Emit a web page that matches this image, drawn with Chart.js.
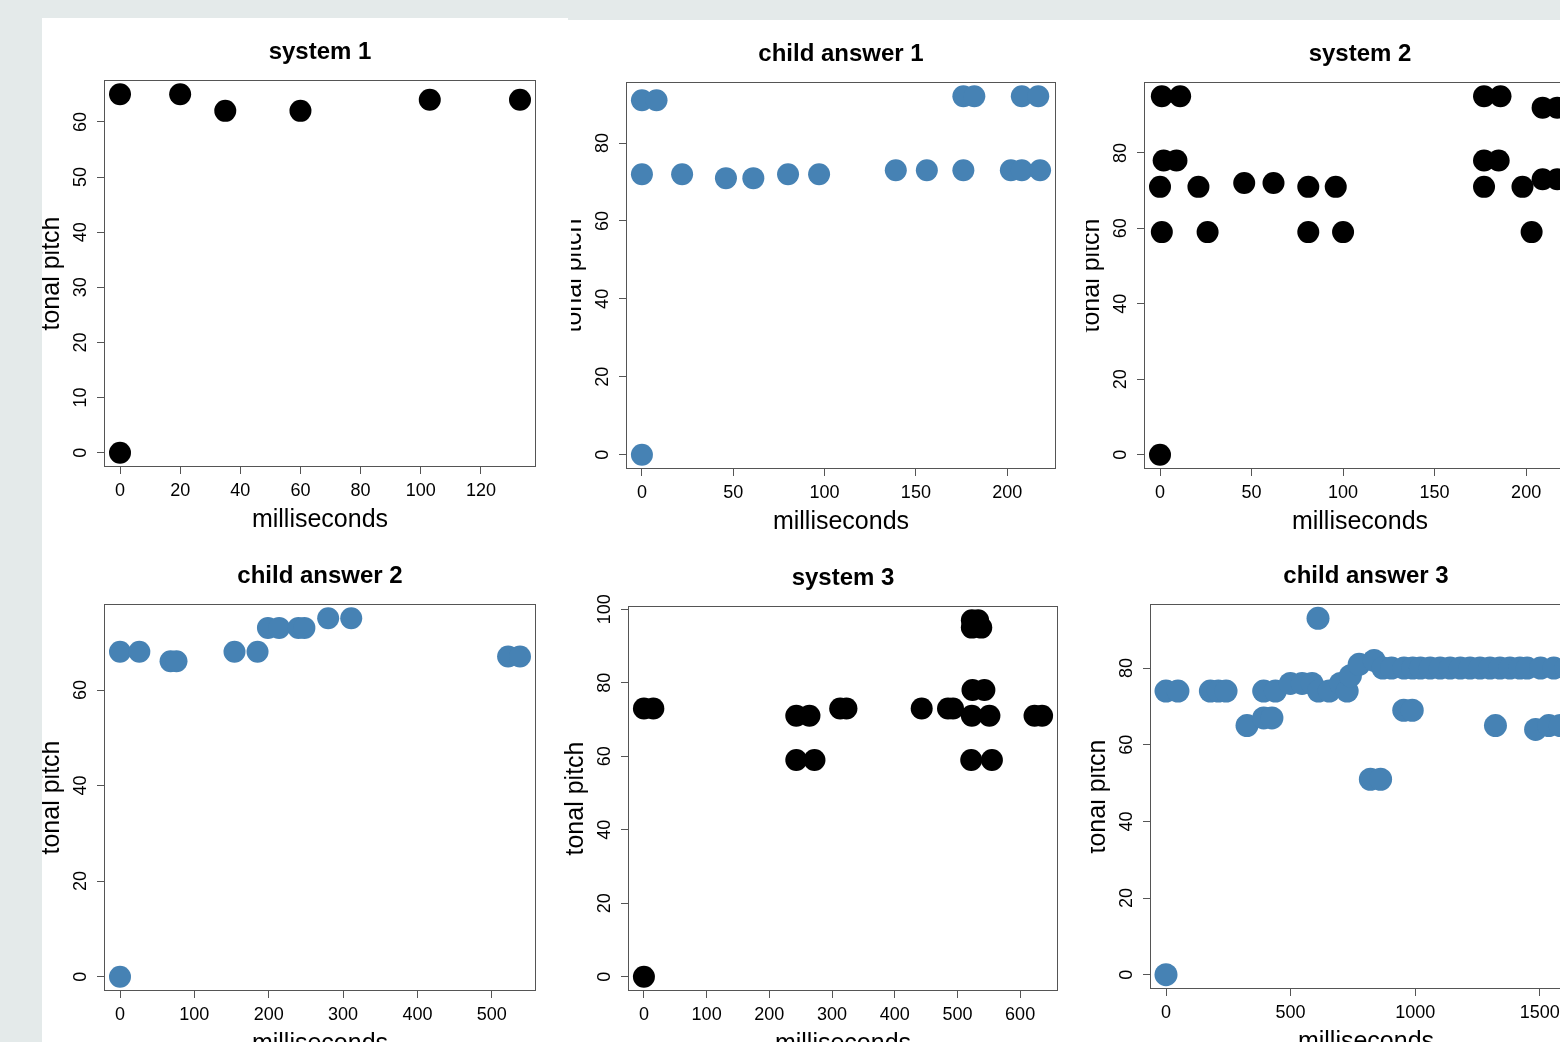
<!DOCTYPE html>
<html><head><meta charset="utf-8">
<script src="https://cdn.jsdelivr.net/npm/chart.js@4.4.1/dist/chart.umd.min.js"></script>
<style>
html,body{margin:0;padding:0;width:1560px;height:1042px;overflow:hidden;background:#e4eaea;position:relative;}
.white{position:absolute;background:#fff;}
.clip{position:absolute;top:0;height:1042px;overflow:hidden;}
.clip canvas{position:absolute;}
</style></head><body>
<div class="white" style="left:42px;top:18px;width:526px;height:1024px"></div>
<div class="white" style="left:568px;top:20px;width:992px;height:1022px"></div>
<script>
// ---- text ----
const panelTitles = ['system 1', 'child answer 1', 'system 2', 'child answer 2', 'system 3', 'child answer 3'];
const xLabel = 'milliseconds';
const yLabel = 'tonal pitch';

// ---- data (milliseconds, tonal pitch) ----
const sys1X = [0, 20, 35, 60, 103, 133, 0];
const sys1Y = [65, 65, 62, 62, 64, 64, 0];

const ans1X = [0, 8, 0, 22, 46, 61, 80, 97, 139, 156, 176, 176, 182, 202, 208, 218, 208, 217, 0];
const ans1Y = [91, 91, 72, 72, 71, 71, 72, 72, 73, 73, 73, 92, 92, 73, 73, 73, 92, 92, 0];

const sys2X = [1, 11, 2, 9, 0, 21, 1, 26, 46, 62, 81, 96, 81, 100, 177, 186, 177, 185, 177, 198, 203, 209, 217, 209, 217, 0];
const sys2Y = [95, 95, 78, 78, 71, 71, 59, 59, 72, 72, 71, 71, 59, 59, 95, 95, 78, 78, 71, 71, 59, 92, 92, 73, 73, 0];

const ans2X = [0, 26, 68, 76, 154, 185, 199, 214, 240, 248, 280, 311, 522, 538, 0];
const ans2Y = [68, 68, 66, 66, 68, 68, 73, 73, 73, 73, 75, 75, 67, 67, 0];

const sys3X = [0, 15, 243, 264, 243, 272, 313, 323, 443, 485, 493, 523, 533, 523, 538, 524, 543, 523, 551, 522, 555, 623, 635, 0];
const sys3Y = [73, 73, 71, 71, 59, 59, 73, 73, 73, 73, 73, 97, 97, 95, 95, 78, 78, 71, 71, 59, 59, 71, 71, 0];

const ans3X = [0, 0, 48, 178, 210, 241, 325, 392, 425, 392, 439, 499, 546, 586, 610, 612, 655, 700, 727, 740, 775, 835, 820, 861,
               870, 905, 955, 990, 954, 988, 1021, 1060, 1100, 1140, 1181, 1220, 1260, 1300, 1322, 1340, 1380, 1420, 1449,
               1483, 1503, 1536, 1556, 1582, 1605];
const ans3Y = [0, 74, 74, 74, 74, 74, 65, 67, 67, 74, 74, 76, 76, 76, 93, 74, 74, 76, 74, 78, 81, 82, 51, 51,
               80, 80, 80, 80, 69, 69, 80, 80, 80, 80, 80, 80, 80, 80, 65, 80, 80, 80, 80,
               64, 80, 65, 80, 65, 80];

// ---- tick labels ----
const sys1XTicks = [0, 20, 40, 60, 80, 100, 120];
const sys1YTicks = [0, 10, 20, 30, 40, 50, 60];
const ans1XTicks = [0, 50, 100, 150, 200];
const ans1YTicks = [0, 20, 40, 60, 80];
const sys2XTicks = [0, 50, 100, 150, 200];
const sys2YTicks = [0, 20, 40, 60, 80];
const ans2XTicks = [0, 100, 200, 300, 400, 500];
const ans2YTicks = [0, 20, 40, 60];
const sys3XTicks = [0, 100, 200, 300, 400, 500, 600];
const sys3YTicks = [0, 20, 40, 60, 80, 100];
const ans3XTicks = [0, 500, 1000, 1500];
const ans3YTicks = [0, 20, 40, 60, 80];

// ---- layout / style ----
const FONT = "'Liberation Sans', Arial, Helvetica, sans-serif";
const BLACK = '#000000', BLUE = '#4682B4', LINE = '#555555';
Chart.defaults.font.family = FONT;

const panels = [
  {t: 0, xs: sys1X, ys: sys1Y, xt: sys1XTicks, yt: sys1YTicks, color: BLACK, box: [104, 80, 536, 467],  xr: [-5.32, 138.32],  yr: [-2.6, 67.6],   clipLeft: 42,   r: 11},
  {t: 1, xs: ans1X, ys: ans1Y, xt: ans1XTicks, yt: ans1YTicks, color: BLUE,  box: [626, 82, 1056, 469], xr: [-8.72, 226.72],  yr: [-3.68, 95.68], clipLeft: 571,  r: 11},
  {t: 2, xs: sys2X, ys: sys2Y, xt: sys2XTicks, yt: sys2YTicks, color: BLACK, box: [1144, 82, 1576, 469], xr: [-8.74, 227.24], yr: [-3.8, 98.8],   clipLeft: 1086, r: 11},
  {t: 3, xs: ans2X, ys: ans2Y, xt: ans2XTicks, yt: ans2YTicks, color: BLUE,  box: [104, 604, 536, 991], xr: [-21.52, 559.52], yr: [-3, 78],       clipLeft: 42,   r: 11},
  {t: 4, xs: sys3X, ys: sys3Y, xt: sys3XTicks, yt: sys3YTicks, color: BLACK, box: [628, 606, 1058, 991], xr: [-25.4, 660.4],  yr: [-3.88, 100.88], clipLeft: 555, r: 11},
  {t: 5, xs: ans3X, ys: ans3Y, xt: ans3XTicks, yt: ans3YTicks, color: BLUE,  box: [1150, 604, 1582, 989], xr: [-64.2, 1669.2], yr: [-3.72, 96.72], clipLeft: 1091, r: 11.5}
];

const boxPlugin = {
  id: 'rbox',
  afterDatasetsDraw(chart) {
    const {ctx, chartArea: a} = chart;
    ctx.save();
    ctx.strokeStyle = LINE;
    ctx.lineWidth = 1;
    ctx.strokeRect(Math.round(a.left) + 0.5, Math.round(a.top) + 0.5,
                   Math.round(a.right - a.left) - 1, Math.round(a.bottom - a.top) - 1);
    ctx.restore();
  }
};

const fmt = v => String(v);

panels.forEach(p => {
  const [bl, bt, br, bb] = p.box;
  const YW = 80, XH = 68, RP = 12;
  const CL = bl - YW, CT = bt - 50;
  const CW = br - CL + RP, CH = bb + XH - CT;
  const clip = document.createElement('div');
  clip.className = 'clip';
  clip.style.left = p.clipLeft + 'px';
  clip.style.width = (1600 - p.clipLeft) + 'px';
  const cv = document.createElement('canvas');
  cv.width = CW; cv.height = CH;
  cv.style.width = CW + 'px'; cv.style.height = CH + 'px';
  cv.style.left = (CL - p.clipLeft) + 'px';
  cv.style.top = CT + 'px';
  clip.appendChild(cv);
  document.body.appendChild(clip);

  const maxChars = Math.max(...p.yt.map(v => String(v).length));
  const yPad = 15.5 - maxChars * 5;

  const grid = {display: true, drawOnChartArea: false, drawTicks: true, tickLength: 7, color: LINE, lineWidth: 1};

  new Chart(cv, {
    type: 'scatter',
    data: {
      datasets: [{
        data: p.xs.map((x, i) => ({x: x, y: p.ys[i]})),
        pointRadius: p.r, pointHoverRadius: p.r,
        pointBackgroundColor: p.color, pointBorderColor: p.color, pointBorderWidth: 0,
        showLine: false
      }]
    },
    options: {
      responsive: false, animation: false, events: [],
      layout: {padding: {left: 0, top: 0, right: RP, bottom: 0}},
      plugins: {
        legend: {display: false},
        tooltip: {enabled: false},
        title: {display: true, text: panelTitles[p.t], fullSize: false, align: 'center',
                color: '#000', font: {size: 24, weight: 'bold', family: FONT},
                padding: {top: 7.8, bottom: 13.4}}
      },
      scales: {
        x: {
          type: 'linear', position: 'bottom', min: p.xr[0], max: p.xr[1],
          afterBuildTicks: s => { s.ticks = p.xt.map(v => ({value: v})); },
          afterFit: s => { s.height = XH; },
          ticks: {font: {size: 18, family: FONT}, color: '#000', padding: 6, autoSkip: false,
                  minRotation: 0, maxRotation: 0, callback: fmt},
          grid: grid, border: {display: false},
          title: {display: true, text: xLabel, color: '#000', font: {size: 25, family: FONT}, padding: {top: 0, bottom: 0}}
        },
        y: {
          type: 'linear', position: 'left', min: p.yr[0], max: p.yr[1],
          afterBuildTicks: s => { s.ticks = p.yt.map(v => ({value: v})); },
          afterFit: s => { s.width = YW; },
          ticks: {font: {size: 18, family: FONT}, color: '#000', padding: yPad, autoSkip: false,
                  minRotation: 90, maxRotation: 90, crossAlign: 'center', callback: fmt},
          grid: grid, border: {display: false},
          title: {display: true, text: yLabel, color: '#000', font: {size: 25, family: FONT}, padding: {top: 13.5, bottom: 0}}
        }
      }
    },
    plugins: [boxPlugin]
  });
});
</script>
</body></html>
